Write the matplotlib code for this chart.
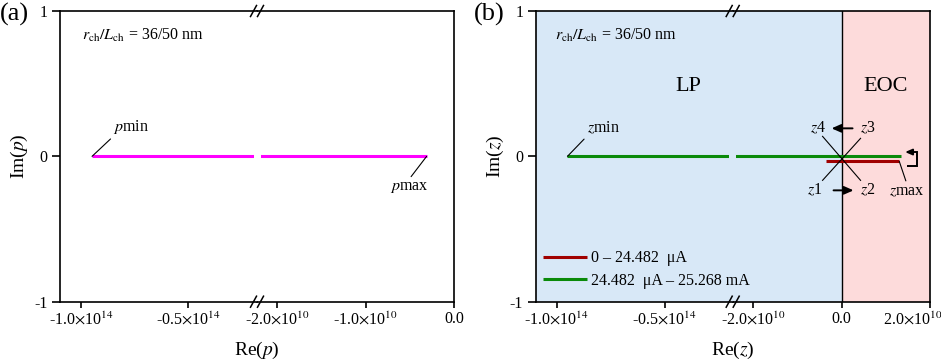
import numpy as np
import matplotlib
matplotlib.use('Agg')
import matplotlib.pyplot as plt
import matplotlib.transforms as mtransforms
from matplotlib.patches import Rectangle

plt.rcParams['font.family'] = 'serif'
plt.rcParams['font.serif'] = ['Liberation Serif', 'DejaVu Serif']
plt.rcParams['mathtext.fontset'] = 'stix'
plt.rcParams['axes.unicode_minus'] = False

# --- data ---
p_re = [-0.95e14, -0.31e10]          # pmin -> pmax
p_im = [0.0, 0.0]
z_green_re = [-0.95e14, 1.34e10]     # 24.482 uA - 25.268 mA
z_green_im = [0.0, 0.0]
z_red_re = [-0.35e10, 1.31e10]       # 0 - 24.482 uA
z_red_im = [-0.035, -0.035]
cross = (0.0, 0.0)                   # LP / EOC boundary crossing

xlim_a_left = (-1.10e14, -0.178e14)
xlim_a_right = (-2.23e10, 0.0)
xlim_b_left = (-1.097e14, -0.185e14)
xlim_b_right = (-2.47e10, 2.0e10)
ticks_a_left = [-1.0e14, -0.5e14]
ticks_a_right = [-2.0e10, -1.0e10, 0.0]
ticks_b_left = [-1.0e14, -0.5e14]
ticks_b_right = [-2.0e10, 0.0, 2.0e10]
labels_a_left = [r'-1.0$\times$10$^{14}$', r'-0.5$\times$10$^{14}$']
labels_a_right = [r'-2.0$\times$10$^{10}$', r'-1.0$\times$10$^{10}$', '0.0']
labels_b_left = [r'-1.0$\times$10$^{14}$', r'-0.5$\times$10$^{14}$']
labels_b_right = [r'-2.0$\times$10$^{10}$', '0.0', r'2.0$\times$10$^{10}$']
legend_labels = ['0 \u2013 24.482  \u03bcA', '24.482  \u03bcA \u2013 25.268 mA']

LP_COLOR = '#d8e8f7'
EOC_COLOR = '#fddbdb'
MAGENTA = '#ff00ff'
GREEN = '#0a8a0a'
RED = '#a00000'

W, H = 941, 364
fig = plt.figure(figsize=(W / 100, H / 100), dpi=100)

ax_bottom = 1 - 301.7 / H
ax_height = 290.7 / H
half_w = 197.0


def make_pair(left_px):
    axl = fig.add_axes([left_px / W, ax_bottom, half_w / W, ax_height])
    axr = fig.add_axes([(left_px + half_w) / W, ax_bottom, half_w / W, ax_height])
    axl.set_zorder(3)
    axr.set_zorder(2)
    for ax in (axl, axr):
        ax.set_ylim(-1, 1)
        for s in ax.spines.values():
            s.set_linewidth(1.2)
        ax.tick_params(axis='x', direction='out', length=4, width=1.2, labelsize=11.5, pad=3)
        ax.tick_params(axis='y', direction='out', length=6, width=1.2, labelsize=11.5, pad=3)
    axl.spines['right'].set_visible(False)
    axr.spines['left'].set_visible(False)
    axl.set_yticks([-1, 0, 1])
    axl.set_yticklabels(['-1', '0', '1'])
    axr.set_yticks([])
    return axl, axr


def px_at(x, y, trans):
    # pixel offsets (y downwards) around an anchor point
    return mtransforms.Affine2D().scale(1, -1) + mtransforms.ScaledTranslation(x, y, trans)


def clip_side(line, ax, side, gap_px=3.5):
    g = gap_px / half_w
    if side == 'left':
        r = Rectangle((-0.1, -1), 1.1 - g, 3, transform=ax.transAxes)
    else:
        r = Rectangle((g, -1), 1.1, 3, transform=ax.transAxes)
    line.set_clip_path(r)


def break_marks(axl):
    for yy in (0, 1):
        tr = px_at(1.0, yy, axl.transAxes)
        for c in (-3.5, 3.5):
            axl.plot([c - 3, c + 3], [5.5, -5.5], color='k', lw=1.1, transform=tr, clip_on=False, zorder=5)


ann_kw = dict(fontsize=11.5, textcoords='offset points')
leader = dict(arrowstyle='-', color='k', lw=0.8, shrinkA=0, shrinkB=0)

# ---------------- panel (a) ----------------
axl, axr = make_pair(60.0)
axl.set_xlim(*xlim_a_left)
axr.set_xlim(*xlim_a_right)
axl.set_xticks(ticks_a_left)
axl.set_xticklabels(labels_a_left)
axr.set_xticks(ticks_a_right)
axr.set_xticklabels(labels_a_right)

ln, = axl.plot(p_re, p_im, color=MAGENTA, lw=2.2, solid_capstyle='butt')
clip_side(ln, axl, 'left')
ln, = axr.plot(p_re, p_im, color=MAGENTA, lw=2.2, solid_capstyle='butt')
clip_side(ln, axr, 'right')

axl.annotate('$p$min', xy=(p_re[0], p_im[0]), xytext=(15.3, 14.4), ha='left', va='bottom',
             arrowprops=dict(leader, relpos=(0, 0)), **ann_kw)
axr.annotate('$p$max', xy=(p_re[1], p_im[1]), xytext=(-12.7, -16.6), ha='center', va='top',
             arrowprops=dict(leader, relpos=(0.5, 1)), **ann_kw)

axl.text(0.11, 0.917, r'$r_{\mathrm{ch}}/L_{\mathrm{ch}}$ = 36/50 nm', transform=axl.transAxes,
         fontsize=11.5, ha='left', va='center')
axl.set_xlabel('Re($p$)', fontsize=14)
axl.xaxis.set_label_coords(1.0, -0.13)
axl.set_ylabel('Im($p$)', fontsize=14)
axl.yaxis.set_label_coords(-0.15, 0.5)
break_marks(axl)
fig.text(0 / W, 1 - 14 / H, '(a)', fontsize=19, ha='left', va='center')

# ---------------- panel (b) ----------------
axl, axr = make_pair(535.7)
axl.set_xlim(*xlim_b_left)
axr.set_xlim(*xlim_b_right)
axl.set_xticks(ticks_b_left)
axl.set_xticklabels(labels_b_left)
axr.set_xticks(ticks_b_right)
axr.set_xticklabels(labels_b_right)
# last tick label sits left of its tick to stay inside the figure
last = axr.get_xticklabels()[-1]
last.set_transform(last.get_transform() + mtransforms.ScaledTranslation(-0.17, 0, fig.dpi_scale_trans))

axl.set_facecolor(LP_COLOR)
axr.axvspan(xlim_b_right[0], cross[0], color=LP_COLOR, lw=0, zorder=0)
axr.axvspan(cross[0], xlim_b_right[1], color=EOC_COLOR, lw=0, zorder=0)
axr.axvline(cross[0], color='k', lw=1.0, zorder=1)

ln, = axl.plot(z_green_re, z_green_im, color=GREEN, lw=2.2, solid_capstyle='butt', zorder=3)
clip_side(ln, axl, 'left')
green_r, = axr.plot(z_green_re, z_green_im, color=GREEN, lw=2.2, solid_capstyle='butt', zorder=3)
clip_side(green_r, axr, 'right')
red_r, = axr.plot(z_red_re, z_red_im, color=RED, lw=2.2, solid_capstyle='butt', zorder=3)

axl.annotate('$z$min', xy=(z_green_re[0], z_green_im[0]), xytext=(13.9, 14.4), ha='left', va='bottom',
             arrowprops=dict(leader, relpos=(0, 0)), **ann_kw)
axr.annotate('$z$max', xy=(z_red_re[1], z_red_im[1]), xytext=(5.4, -16.0), ha='center', va='top',
             arrowprops=dict(leader, relpos=(0.5, 1)), **ann_kw)

# X crossing at the LP/EOC boundary
tr = px_at(cross[0], cross[1], axr.transData)
axr.plot([-19, 19], [-20, 24], color='k', lw=0.8, transform=tr, clip_on=False, zorder=4)
axr.plot([19, -19], [-18, 24], color='k', lw=0.8, transform=tr, clip_on=False, zorder=4)
for lab, dx, dy in [('$z$4', -24, -28), ('$z$3', 26, -28), ('$z$1', -27, 34), ('$z$2', 26, 34)]:
    axr.text(dx, dy, lab, transform=tr, fontsize=11.5, ha='center', va='center')
arrow = dict(arrowstyle='-|>,head_length=0.5,head_width=0.22', color='k', lw=1.4,
             shrinkA=0, shrinkB=0, mutation_scale=11)
axr.annotate('', xy=(-10, -28), xycoords=tr, xytext=(11, -28), textcoords=tr, arrowprops=arrow)
axr.annotate('', xy=(12, 34), xycoords=tr, xytext=(-8, 34), textcoords=tr, arrowprops=arrow)

# return arrow near zmax
tr2 = px_at(z_green_re[1], z_green_im[1], axr.transData)
axr.plot([6.6, 16.6, 16.6, 10], [10, 10, -4.3, -4.3], color='k', lw=1.4, transform=tr2,
         clip_on=False, solid_joinstyle='miter', solid_capstyle='butt', zorder=4)
small_arrow = dict(arrow, mutation_scale=8)
axr.annotate('', xy=(4.5, -4.3), xycoords=tr2, xytext=(11, -4.3), textcoords=tr2, arrowprops=small_arrow)

axl.text(0.776, 0.74, 'LP', transform=axl.transAxes, fontsize=16, ha='center', va='center')
axr.text(np.mean([cross[0], xlim_b_right[1]]), 0.48, 'EOC', fontsize=16, ha='center', va='center')
axl.text(0.098, 0.917, r'$r_{\mathrm{ch}}/L_{\mathrm{ch}}$ = 36/50 nm', transform=axl.transAxes,
         fontsize=11.5, ha='left', va='center')

axl.legend(handles=[red_r, green_r], labels=legend_labels, loc='lower left',
           bbox_to_anchor=(0.035, 0.045), frameon=False, fontsize=11.5, handlelength=2.8,
           handletextpad=0.2, labelspacing=0.4, borderpad=0, borderaxespad=0)

axl.set_xlabel('Re($z$)', fontsize=14)
axl.xaxis.set_label_coords(1.0, -0.13)
axl.set_ylabel('Im($z$)', fontsize=14)
axl.yaxis.set_label_coords(-0.15, 0.5)
break_marks(axl)
fig.text(474 / W, 1 - 14 / H, '(b)', fontsize=19, ha='left', va='center')

fig.savefig('out.png', dpi=100)
